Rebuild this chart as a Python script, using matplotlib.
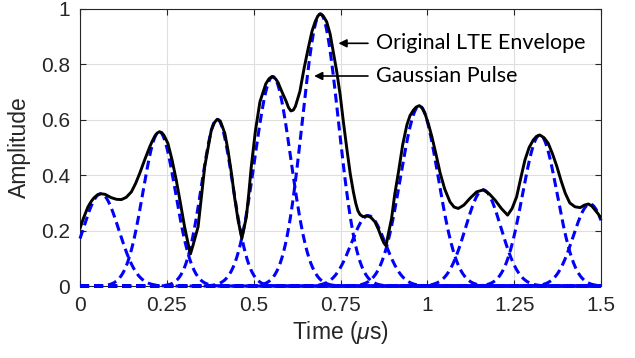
import numpy as np
import matplotlib.pyplot as plt

plt.rcParams['font.family'] = ['Liberation Sans', 'DejaVu Sans']
plt.rcParams['mathtext.fontset'] = 'custom'
plt.rcParams['mathtext.it'] = 'Liberation Sans:italic'
plt.rcParams['mathtext.rm'] = 'Liberation Sans'
plt.rcParams['lines.scale_dashes'] = False

# LTE envelope (time in us, amplitude)
env_t = [0.000, 0.010, 0.023, 0.032, 0.040, 0.050, 0.060, 0.072, 0.090, 0.105,
         0.119, 0.133, 0.148, 0.160, 0.172, 0.186, 0.201, 0.208, 0.215, 0.222,
         0.229, 0.236, 0.242, 0.253, 0.265, 0.277, 0.289, 0.301, 0.310, 0.318,
         0.326, 0.340, 0.359, 0.378, 0.387, 0.395, 0.404, 0.417, 0.426, 0.436,
         0.445, 0.455, 0.466, 0.479, 0.486, 0.493, 0.505, 0.518, 0.535, 0.544,
         0.553, 0.563, 0.570, 0.581, 0.594, 0.600, 0.607, 0.614, 0.620, 0.633,
         0.645, 0.657, 0.668, 0.677, 0.685, 0.692, 0.700, 0.710, 0.720, 0.729,
         0.739, 0.749, 0.758, 0.768, 0.778, 0.787, 0.794, 0.800, 0.806, 0.815,
         0.826, 0.837, 0.849, 0.859, 0.869, 0.875, 0.881, 0.888, 0.897, 0.906,
         0.917, 0.929, 0.941, 0.950, 0.960, 0.968, 0.977, 0.985, 0.993, 1.003,
         1.013, 1.025, 1.037, 1.050, 1.065, 1.077, 1.089, 1.105, 1.123, 1.142,
         1.161, 1.178, 1.195, 1.213, 1.231, 1.244, 1.257, 1.269, 1.281, 1.293,
         1.305, 1.314, 1.324, 1.336, 1.348, 1.360, 1.373, 1.385, 1.397, 1.410,
         1.425, 1.440, 1.452, 1.464, 1.474, 1.483, 1.492, 1.500]
env_a = [0.208, 0.245, 0.286, 0.305, 0.318, 0.329, 0.333, 0.331, 0.319, 0.313,
         0.312, 0.320, 0.340, 0.370, 0.407, 0.455, 0.503, 0.523, 0.540, 0.552,
         0.557, 0.553, 0.543, 0.515, 0.455, 0.383, 0.300, 0.214, 0.160, 0.116,
         0.150, 0.214, 0.431, 0.563, 0.590, 0.602, 0.595, 0.551, 0.490, 0.407,
         0.320, 0.238, 0.172, 0.250, 0.335, 0.430, 0.560, 0.665, 0.730, 0.748,
         0.756, 0.748, 0.735, 0.702, 0.665, 0.645, 0.632, 0.635, 0.648, 0.702,
         0.785, 0.858, 0.920, 0.954, 0.975, 0.982, 0.975, 0.954, 0.910, 0.846,
         0.775, 0.690, 0.595, 0.497, 0.405, 0.340, 0.298, 0.272, 0.258, 0.250,
         0.254, 0.248, 0.232, 0.205, 0.172, 0.155, 0.146, 0.190, 0.244, 0.330,
         0.413, 0.510, 0.581, 0.615, 0.635, 0.646, 0.651, 0.643, 0.623, 0.585,
         0.539, 0.475, 0.407, 0.350, 0.304, 0.285, 0.280, 0.292, 0.317, 0.340,
         0.347, 0.333, 0.310, 0.280, 0.256, 0.280, 0.322, 0.390, 0.455, 0.500,
         0.527, 0.540, 0.545, 0.535, 0.515, 0.478, 0.431, 0.380, 0.335, 0.300,
         0.286, 0.283, 0.292, 0.296, 0.288, 0.274, 0.260, 0.244]

# Gaussian pulses: centre, peak, width (sigma)
pulse_c = [0.060, 0.228, 0.395, 0.555, 0.692, 0.830, 0.977, 1.161, 1.324, 1.468]
pulse_a = [0.333, 0.557, 0.602, 0.756, 0.982, 0.254, 0.650, 0.347, 0.545, 0.296]
pulse_s = [0.052, 0.047, 0.045, 0.052, 0.052, 0.049, 0.054, 0.051, 0.050, 0.048]

xticks = [0, 0.25, 0.5, 0.75, 1, 1.25, 1.5]
xtick_labels = ['0', '0.25', '0.5', '0.75', '1', '1.25', '1.5']
yticks = [0, 0.2, 0.4, 0.6, 0.8, 1]
ytick_labels = ['0', '0.2', '0.4', '0.6', '0.8', '1']

fig = plt.figure(figsize=(6.35, 3.58), dpi=100)
ax = fig.add_axes([0.126, 0.201, 0.8205, 0.774])

t = np.linspace(0, 1.5, 1501)
for c, a, s in zip(pulse_c, pulse_a, pulse_s):
    ax.plot(t, a * np.exp(-(t - c) ** 2 / (2 * s ** 2)), color=(0, 0, 1),
            lw=2.2, dashes=(6.5, 3.6), clip_on=False, zorder=3)

ax.plot(env_t, env_a, color='k', lw=2.1, zorder=4,
        solid_joinstyle='round', solid_capstyle='round')

ax.set_xlim(0, 1.5)
ax.set_ylim(0, 1)
ax.set_xticks(xticks)
ax.set_xticklabels(xtick_labels)
ax.set_yticks(yticks)
ax.set_yticklabels(ytick_labels)
ax.grid(True, color='#dedede', lw=0.8)
ax.set_axisbelow(True)
ax.tick_params(direction='in', top=True, right=True, length=4, width=0.8,
               colors='#262626', labelsize=15, pad=7)
for sp in ax.spines.values():
    sp.set_color('#262626')
    sp.set_linewidth(0.8)

ax.set_xlabel(r'Time ($\mu$s)', fontsize=16.5, color='#262626', labelpad=3)
ax.set_ylabel('Amplitude', fontsize=16.5, color='#262626', labelpad=7)

arrow = dict(arrowstyle='-|>', color='k', lw=1.2, mutation_scale=12,
             shrinkA=0, shrinkB=0)
ax.annotate('', xy=(0.744, 0.876), xytext=(0.829, 0.876), arrowprops=arrow)
ax.annotate('', xy=(0.674, 0.758), xytext=(0.829, 0.758), arrowprops=arrow)
ax.text(0.852, 0.876, 'Original LTE Envelope', fontsize=15.5, family=['Lato'],
        va='center', ha='left', color='k')
ax.text(0.852, 0.758, 'Gaussian Pulse', fontsize=15.5, family=['Lato'],
        va='center', ha='left', color='k')

fig.savefig('out.png', dpi=100)
